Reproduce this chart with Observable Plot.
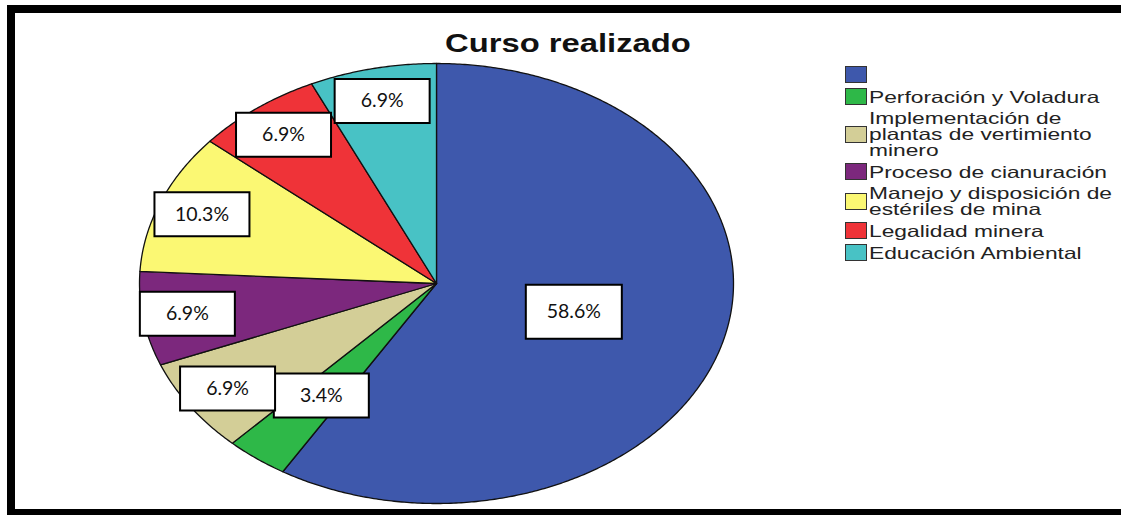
<!DOCTYPE html>
<html>
<head>
<meta charset="utf-8">
<script src="https://cdn.jsdelivr.net/npm/d3@7"></script>
<script src="https://cdn.jsdelivr.net/npm/@observablehq/plot@0.6"></script>
<style>
  html { margin: 0; padding: 0; background: #fff; overflow: hidden; }
  body { margin: 0; padding: 0; background: #fff; width: 1121px; height: 515px; overflow: hidden; position: relative; }
  #chart { position: absolute; left: 0; top: 0; }
  #frame { position: absolute; left: 7px; top: 5px; width: 1106px; height: 496px; border-top: 8px solid #000; border-left: 8px solid #000; border-bottom: 8px solid #000; pointer-events: none; }
  #title { position: absolute; left: 445px; top: 30px; font: bold 26px "Liberation Sans", Arial, sans-serif; line-height: 26px; color: #111; white-space: nowrap; transform: scaleX(1.26); transform-origin: left top; }
  #legend { position: absolute; left: 845px; top: 66px; display: flex; flex-direction: column; gap: 5px; }
  .item { display: flex; align-items: center; }
  .sw { width: 20px; height: 15px; border: 1px solid #333; flex: none; }
  .lab { margin-left: 2px; width: 180px; font: 16.5px "Liberation Sans", Arial, sans-serif; line-height: 16px; color: #222; transform: scaleX(1.38); transform-origin: left center; }
</style>
</head>
<body>
<div id="chart"></div>
<div id="title"></div>
<div id="legend"></div>
<div id="frame"></div>
<script>
const title = "Curso realizado";
const categories = ["", "Perforación y Voladura", "Implementación de plantas de vertimiento minero", "Proceso de cianuración", "Manejo y disposición de estériles de mina", "Legalidad minera", "Educación Ambiental"];
const percents = [58.6, 3.4, 6.9, 6.9, 10.3, 6.9, 6.9];
const colors = ["#3E58AC", "#2EB848", "#D3CE97", "#7C287D", "#FBF873", "#EF3338", "#48C2C5"];

const rows = categories.map((c, i) => ({key: c, value: percents[i]}));
const arcs = d3.pie().sort(null).value(d => d.value)(rows);

// slice outlines in unit space (x = sin, y = cos, clockwise from 12 o'clock)
const slicePts = [];
arcs.forEach(a => {
  const k = a.data.key;
  slicePts.push({key: k, x: 0, y: 0});
  const n = Math.max(2, Math.ceil((a.endAngle - a.startAngle) / (Math.PI / 360)));
  for (let j = 0; j <= n; j++) {
    const t = a.startAngle + (a.endAngle - a.startAngle) * j / n;
    slicePts.push({key: k, x: Math.sin(t), y: Math.cos(t)});
  }
});

// label anchor points
const labels = arcs.map(a => {
  const mid = (a.startAngle + a.endAngle) / 2;
  const v = a.data.value;
  const f = v > 50 ? 0.48 : (v < 5 ? 0.64 : 0.85);
  return {key: a.data.key, big: v > 50, x: f * Math.sin(mid), y: f * Math.cos(mid), text: v.toFixed(1) + "%"};
});

const rectSymbol = (w, h) => ({draw(ctx) { ctx.rect(-w / 2, -h / 2, w, h); }});

const plot = Plot.plot({
  width: 1121,
  height: 515,
  margin: 0,
  style: {background: "transparent"},
  x: {domain: [-1, 1], range: [139, 733], axis: null},
  y: {domain: [-1, 1], range: [503, 63], axis: null},
  color: {domain: categories, range: colors},
  marks: [
    Plot.line(slicePts, {x: "x", y: "y", z: "key", fill: "key", stroke: "#111", strokeWidth: 1.3, curve: "linear-closed", strokeLinejoin: "round"}),
    Plot.dot(labels.filter(d => d.big), {x: "x", y: "y", symbol: rectSymbol(96, 54), fill: "#fff", stroke: "#000", strokeWidth: 2}),
    Plot.dot(labels.filter(d => !d.big), {x: "x", y: "y", symbol: rectSymbol(95, 44), fill: "#fff", stroke: "#000", strokeWidth: 2}),
    Plot.text(labels, {x: "x", y: "y", text: "text", fontSize: 19.5, fontFamily: "Lato, 'Open Sans', sans-serif", fill: "#111", textAnchor: "middle", lineAnchor: "middle"})
  ]
});
document.getElementById("chart").appendChild(plot);

document.getElementById("title").textContent = title;
const legend = document.getElementById("legend");
categories.forEach((c, i) => {
  const item = document.createElement("div");
  item.className = "item";
  const sw = document.createElement("div");
  sw.className = "sw";
  sw.style.background = colors[i];
  item.appendChild(sw);
  if (c) {
    const lab = document.createElement("div");
    lab.className = "lab";
    lab.textContent = c;
    item.appendChild(lab);
  }
  legend.appendChild(item);
});
</script>
</body>
</html>
